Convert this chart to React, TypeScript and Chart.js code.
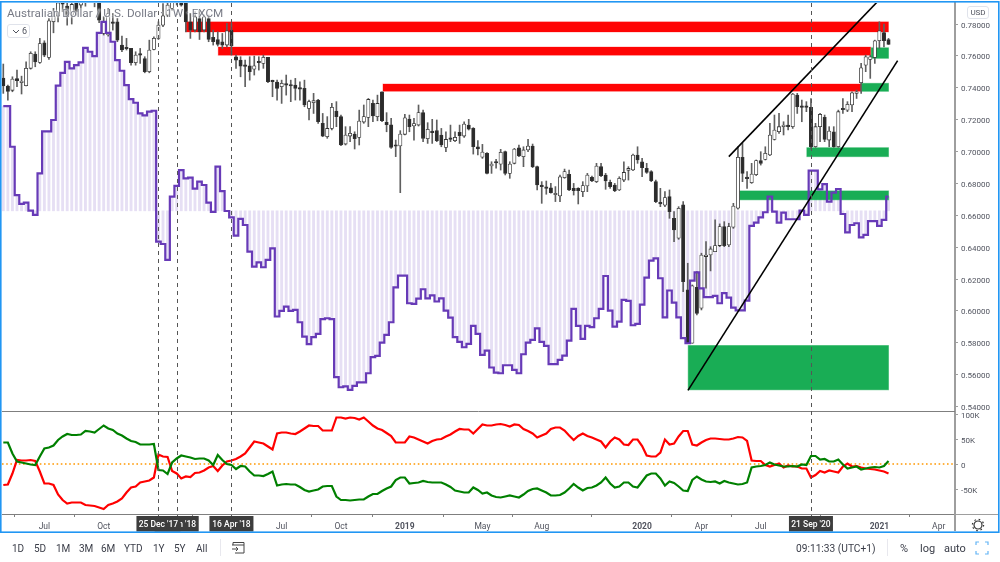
import React, { useEffect, useRef } from "react";
import { Chart, registerables } from "chart.js";

Chart.register(...registerables);

const opens = [
  0.7461, 0.7411, 0.7384, 0.7457, 0.7432, 0.7413, 0.7522, 0.7611, 0.7559, 0.7682,
  0.7591, 0.7814, 0.785, 0.796, 0.7912, 0.7856, 0.7971, 0.7919, 0.7992, 0.7992,
  0.8013, 0.7992, 0.7741, 0.7731, 0.7814, 0.7814, 0.7668, 0.7651, 0.7647, 0.7557,
  0.7609, 0.7584, 0.7501, 0.7641, 0.771, 0.7793, 0.7856, 0.7898, 0.794, 0.794,
  0.794, 0.7814, 0.7762, 0.7835, 0.7762, 0.7835, 0.7716, 0.7703, 0.7689, 0.7668,
  0.7762, 0.7595, 0.7574, 0.7538, 0.7538, 0.7517, 0.7561, 0.7553, 0.7591, 0.7442,
  0.7436, 0.7407, 0.7421, 0.7415, 0.7417, 0.7396, 0.7396, 0.7271, 0.7306, 0.7323,
  0.7177, 0.7093, 0.7145, 0.7254, 0.7219, 0.7047, 0.7097, 0.711, 0.7089, 0.7185,
  0.7214, 0.7302, 0.7219, 0.7375, 0.7183, 0.7168, 0.7037, 0.7035, 0.7108, 0.7204,
  0.716, 0.7166, 0.7244, 0.7081, 0.7129, 0.7131, 0.7104, 0.7026, 0.7083, 0.7068,
  0.712, 0.7097, 0.7166, 0.7145, 0.703, 0.6964, 0.6989, 0.6909, 0.6932, 0.692,
  0.6999, 0.6863, 0.6926, 0.7024, 0.6968, 0.701, 0.7035, 0.6905, 0.679, 0.6775,
  0.6773, 0.6729, 0.6721, 0.6836, 0.6857, 0.6769, 0.6769, 0.6748, 0.6784, 0.6838,
  0.6811, 0.6905, 0.6853, 0.6807, 0.679, 0.6759, 0.6821, 0.6882, 0.6884, 0.6978,
  0.6936, 0.6894, 0.6874, 0.6811, 0.6681, 0.6663, 0.6717, 0.6581, 0.6456, 0.6665,
  0.6132, 0.5797, 0.6148, 0.6017, 0.6341, 0.6351, 0.6372, 0.641, 0.6529, 0.6414,
  0.6525, 0.6644, 0.6964, 0.6834, 0.6805, 0.6855, 0.6943, 0.6951, 0.6978, 0.7076,
  0.7124, 0.7156, 0.716, 0.7156, 0.7354, 0.7281, 0.7281, 0.7277, 0.703, 0.7156,
  0.7214, 0.7072, 0.7124, 0.703, 0.7267, 0.726, 0.7292, 0.7365, 0.7432, 0.7542,
  0.7578, 0.7591, 0.7695, 0.7747, 0.7703,
];

const closes = [
  0.7411, 0.7377, 0.7455, 0.7444, 0.7442, 0.7522, 0.7616, 0.7563, 0.7678, 0.7605,
  0.782, 0.785, 0.7933, 0.7925, 0.7846, 0.7923, 0.7877, 0.794, 0.794, 0.8034,
  0.796, 0.7825, 0.7814, 0.7866, 0.7804, 0.7699, 0.7637, 0.7645, 0.7557, 0.7605,
  0.7605, 0.7501, 0.7637, 0.771, 0.7793, 0.7852, 0.7919, 0.794, 0.7981, 0.7919,
  0.7814, 0.7762, 0.7846, 0.7751, 0.7846, 0.7703, 0.7689, 0.7672, 0.7668, 0.7758,
  0.7662, 0.7574, 0.7536, 0.7534, 0.7501, 0.7538, 0.7557, 0.7591, 0.7438, 0.7438,
  0.7396, 0.7428, 0.7417, 0.7411, 0.7396, 0.7392, 0.7292, 0.7313, 0.7319, 0.7187,
  0.7097, 0.7145, 0.7277, 0.7219, 0.7041, 0.7104, 0.7114, 0.7081, 0.7191, 0.7219,
  0.7327, 0.7223, 0.7302, 0.7193, 0.7168, 0.7026, 0.7033, 0.711, 0.7212, 0.7156,
  0.7175, 0.7244, 0.7083, 0.7139, 0.7118, 0.7068, 0.7041, 0.7076, 0.7076, 0.7089,
  0.7099, 0.7173, 0.7141, 0.703, 0.7016, 0.6997, 0.6863, 0.6922, 0.6928, 0.6995,
  0.6863, 0.6922, 0.7016, 0.6972, 0.701, 0.7035, 0.6905, 0.679, 0.678, 0.6769,
  0.6742, 0.6734, 0.6842, 0.6874, 0.6759, 0.6755, 0.6755, 0.6786, 0.6853, 0.6815,
  0.6909, 0.6849, 0.6815, 0.678, 0.6755, 0.6832, 0.6869, 0.6894, 0.6978, 0.6947,
  0.6899, 0.6869, 0.6817, 0.6686, 0.6671, 0.6711, 0.6623, 0.6508, 0.6644, 0.6184,
  0.5797, 0.6157, 0.5985, 0.6351, 0.6351, 0.6389, 0.641, 0.6529, 0.641, 0.6529,
  0.6658, 0.6964, 0.6863, 0.683, 0.6859, 0.6943, 0.6926, 0.6989, 0.7104, 0.7135,
  0.7156, 0.7162, 0.7156, 0.7361, 0.7281, 0.7277, 0.7277, 0.703, 0.7156, 0.7233,
  0.7076, 0.7129, 0.703, 0.725, 0.7262, 0.7296, 0.7369, 0.7369, 0.7526, 0.7595,
  0.7595, 0.7695, 0.7758, 0.7695, 0.7672,
];

const highs = [
  0.7549, 0.7417, 0.7469, 0.7511, 0.7473, 0.7563, 0.7626, 0.7626, 0.771, 0.7695,
  0.7835, 0.7898, 0.7971, 0.8002, 0.7967, 0.796, 0.8002, 0.7981, 0.8013, 0.8055,
  0.8075, 0.8044, 0.7846, 0.7898, 0.7866, 0.7835, 0.7724, 0.771, 0.7647, 0.7626,
  0.7647, 0.7595, 0.7699, 0.772, 0.7814, 0.7929, 0.796, 0.7971, 0.8013, 0.7971,
  0.796, 0.7866, 0.7877, 0.7887, 0.7856, 0.7856, 0.7762, 0.7751, 0.7741, 0.7804,
  0.7804, 0.7605, 0.7595, 0.7574, 0.7595, 0.7599, 0.7595, 0.7605, 0.7591, 0.7448,
  0.7448, 0.7448, 0.748, 0.7448, 0.7459, 0.7438, 0.7448, 0.7323, 0.7365, 0.7327,
  0.7239, 0.7219, 0.7302, 0.7313, 0.7229, 0.7156, 0.7156, 0.7124, 0.726, 0.7292,
  0.7333, 0.7323, 0.7354, 0.7375, 0.7244, 0.7208, 0.7072, 0.7131, 0.7233, 0.7229,
  0.7208, 0.7292, 0.726, 0.7181, 0.7202, 0.7198, 0.7145, 0.7124, 0.7166, 0.7124,
  0.7166, 0.7187, 0.7202, 0.715, 0.7068, 0.7045, 0.6993, 0.6936, 0.6951, 0.7014,
  0.7003, 0.6936, 0.702, 0.7041, 0.703, 0.7076, 0.7047, 0.6909, 0.6811, 0.6815,
  0.68, 0.678, 0.6853, 0.689, 0.6884, 0.68, 0.6773, 0.6811, 0.6863, 0.6846,
  0.6926, 0.6926, 0.6863, 0.6821, 0.68, 0.6842, 0.6936, 0.6905, 0.6984, 0.703,
  0.6957, 0.6926, 0.688, 0.6821, 0.6769, 0.6748, 0.6759, 0.6623, 0.6654, 0.6686,
  0.6299, 0.6163, 0.6247, 0.6362, 0.6435, 0.6403, 0.6571, 0.6546, 0.656, 0.655,
  0.6675, 0.703, 0.7051, 0.6874, 0.6926, 0.6947, 0.6999, 0.703, 0.7177, 0.7229,
  0.7239, 0.7187, 0.7229, 0.7365, 0.7365, 0.7323, 0.7313, 0.7333, 0.7177, 0.7239,
  0.7229, 0.7156, 0.7156, 0.726, 0.7333, 0.7313, 0.7375, 0.7386, 0.7553, 0.7605,
  0.7605, 0.7699, 0.7814, 0.78, 0.771,
];

const lows = [
  0.7365, 0.7323, 0.7375, 0.7407, 0.7361, 0.7411, 0.7517, 0.7532, 0.7553, 0.7595,
  0.7578, 0.7745, 0.7814, 0.7877, 0.7793, 0.78, 0.7856, 0.7898, 0.7912, 0.795,
  0.7908, 0.7808, 0.7731, 0.7724, 0.7762, 0.7689, 0.7626, 0.7637, 0.7542, 0.7542,
  0.7553, 0.7494, 0.7494, 0.7637, 0.7703, 0.7783, 0.7846, 0.7887, 0.7919, 0.7912,
  0.7751, 0.771, 0.7751, 0.7703, 0.7751, 0.7689, 0.7668, 0.7662, 0.7647, 0.7657,
  0.7605, 0.7522, 0.7469, 0.7407, 0.7448, 0.748, 0.7511, 0.7522, 0.7432, 0.7344,
  0.7323, 0.7302, 0.7354, 0.7313, 0.7323, 0.7323, 0.7281, 0.7198, 0.7239, 0.7177,
  0.7093, 0.7083, 0.7135, 0.7156, 0.7037, 0.7041, 0.7062, 0.7016, 0.7041, 0.7177,
  0.7156, 0.7187, 0.7193, 0.7187, 0.7124, 0.702, 0.6968, 0.6742, 0.7104, 0.7124,
  0.7072, 0.716, 0.7062, 0.7051, 0.7051, 0.7062, 0.703, 0.6999, 0.7062, 0.7062,
  0.7051, 0.7089, 0.7135, 0.6984, 0.6978, 0.6957, 0.6859, 0.6863, 0.6895, 0.6884,
  0.6853, 0.6832, 0.6922, 0.6968, 0.6905, 0.6999, 0.6899, 0.6759, 0.6675, 0.6732,
  0.6738, 0.6686, 0.6686, 0.6832, 0.6755, 0.6727, 0.6671, 0.6717, 0.6748, 0.6811,
  0.6805, 0.6842, 0.6763, 0.6769, 0.6748, 0.6755, 0.6811, 0.6821, 0.688, 0.6926,
  0.6842, 0.6863, 0.6811, 0.6679, 0.6654, 0.6654, 0.6581, 0.6435, 0.6449, 0.6121,
  0.5797, 0.5797, 0.5975, 0.6006, 0.6142, 0.6251, 0.6372, 0.6403, 0.6403, 0.6403,
  0.6518, 0.6638, 0.6811, 0.6769, 0.68, 0.6849, 0.6915, 0.6947, 0.6974, 0.7072,
  0.7114, 0.7104, 0.7135, 0.7145, 0.7239, 0.7187, 0.725, 0.702, 0.7026, 0.7062,
  0.7062, 0.703, 0.7026, 0.7026, 0.7239, 0.725, 0.725, 0.7333, 0.7365, 0.7501,
  0.7459, 0.7553, 0.7647, 0.7657, 0.7672,
];

const netLine = [
  0.7285, 0.7285, 0.703, 0.6727, 0.6671, 0.6679, 0.6629, 0.6602, 0.6863, 0.7127,
  0.7127, 0.7198, 0.7413, 0.7494, 0.7563, 0.7522, 0.7542, 0.7559, 0.7651, 0.7626,
  0.7599, 0.7745, 0.7814, 0.7745, 0.7689, 0.7574, 0.7507, 0.7417, 0.7329, 0.7306,
  0.7239, 0.7227, 0.725, 0.7256, 0.6435, 0.642, 0.632, 0.6717, 0.6784, 0.6884,
  0.6832, 0.6836, 0.6767, 0.6811, 0.679, 0.6679, 0.6621, 0.6905, 0.6752, 0.6627,
  0.6587, 0.6472, 0.6577, 0.6539, 0.6372, 0.6278, 0.6305, 0.6274, 0.632, 0.6393,
  0.5965, 0.6, 0.6027, 0.6, 0.6006, 0.5929, 0.5839, 0.5791, 0.5835, 0.5856,
  0.5948, 0.5954, 0.5948, 0.5584, 0.5521, 0.5526, 0.5505, 0.553, 0.5551, 0.5551,
  0.5609, 0.571, 0.5718, 0.5801, 0.585, 0.5929, 0.6148, 0.6222, 0.6222, 0.6048,
  0.6044, 0.6077, 0.6136, 0.6079, 0.6098, 0.6059, 0.6079, 0.6002, 0.5958, 0.5835,
  0.5806, 0.5772, 0.5793, 0.5906, 0.5856, 0.5724, 0.5751, 0.5645, 0.5613, 0.5609,
  0.5659, 0.5659, 0.563, 0.5609, 0.5728, 0.5801, 0.5818, 0.5891, 0.5806, 0.5781,
  0.5666, 0.5666, 0.5693, 0.572, 0.5814, 0.6013, 0.5906, 0.5824, 0.5906, 0.5898,
  0.5954, 0.6013, 0.6219, 0.6002, 0.5902, 0.5933, 0.6069, 0.6063, 0.591, 0.5919,
  0.604, 0.6209, 0.6316, 0.633, 0.6205, 0.596, 0.6128, 0.6052, 0.596, 0.5829,
  0.5797, 0.619, 0.6242, 0.6142, 0.6086, 0.6086, 0.6094, 0.6048, 0.6111, 0.6084,
  0.6021, 0.6004, 0.6004, 0.6065, 0.6533, 0.6554, 0.6587, 0.6619, 0.6717, 0.6623,
  0.6554, 0.6617, 0.6575, 0.6575, 0.6575, 0.6629, 0.6602, 0.688, 0.688, 0.6763,
  0.6796, 0.6686, 0.6742, 0.6765, 0.6608, 0.6493, 0.6539, 0.655, 0.6462, 0.6477,
  0.6564, 0.6564, 0.6533, 0.6571, 0.6717,
];

const histogramBase = 0.6628;

const redSeries = [
  -42, -41, -19, 8, 7, 7, 8, 6, -15, -39, -39, -42, -61, -72, -79, -77, -77, -77, -82, -83,
  -84, -87, -90, -82, -79, -75, -69, -57, -47, -45, -37, -35, -33, -27, 19, 15, 14, -14, -19, -29,
  -25, -26, -18, -17, -13, -7, -4, -14, -3, 5, 7, 10, 15, 21, 33, 45, 43, 41, 35, 29,
  61, 63, 63, 61, 60, 65, 71, 77, 76, 76, 67, 67, 67, 93, 93, 91, 93, 92, 89, 93,
  85, 77, 71, 68, 62, 56, 43, 43, 43, 55, 53, 49, 45, 41, 46, 49, 50, 55, 59, 65,
  70, 69, 69, 61, 70, 79, 77, 77, 79, 80, 78, 75, 79, 78, 70, 66, 61, 53, 57, 61,
  70, 73, 73, 67, 57, 48, 56, 61, 56, 53, 49, 45, 33, 45, 53, 49, 39, 38, 49, 49,
  36, 17, 15, 15, 23, 49, 39, 41, 55, 66, 66, 39, 37, 43, 48, 51, 51, 50, 49, 49,
  51, 54, 53, 46, 7, 6, 6, -2, -5, -2, 1, -7, -3, -5, -5, -9, -9, -27, -22, -14,
  -17, -13, -15, -17, -5, 1, -5, -4, -7, -9, -10, -11, -13, -15, -19,
];

const greenSeries = [
  43, 43, 21, 5, 3, 1, -1, -2, 15, 31, 33, 37, 48, 55, 60, 58, 58, 59, 66, 65,
  63, 70, 77, 71, 68, 61, 57, 51, 46, 44, 39, 39, 39, 40, -12, -13, -20, 3, 11, 17,
  15, 13, 10, 11, 11, 7, -2, 18, 8, 0, -2, -10, -4, -5, -15, -23, -23, -24, -20, -15,
  -43, -41, -40, -41, -41, -46, -52, -55, -53, -51, -45, -44, -44, -65, -72, -72, -73, -72, -71, -71,
  -65, -60, -60, -54, -49, -45, -32, -27, -27, -39, -38, -37, -34, -36, -37, -37, -37, -41, -46, -53,
  -55, -57, -57, -47, -52, -59, -57, -63, -66, -67, -65, -63, -65, -67, -61, -54, -50, -49, -53, -57,
  -63, -63, -62, -57, -49, -40, -47, -53, -48, -47, -43, -37, -27, -39, -47, -45, -37, -37, -45, -47,
  -35, -23, -19, -19, -29, -43, -35, -38, -45, -53, -54, -32, -25, -31, -35, -36, -35, -39, -34, -37,
  -39, -41, -40, -37, -7, -5, -4, -2, 3, -1, -3, -5, -5, -4, -5, -1, -2, 16, 16, 9,
  10, 5, 5, 9, -1, -9, -7, -5, -11, -9, -7, -6, -7, -4, 6,
];

const priceTicks = [0.78, 0.76, 0.74, 0.72, 0.7, 0.68, 0.66, 0.64, 0.62, 0.6, 0.58, 0.56, 0.54];
const oscTicks = [100, 50, 0, -50];
const oscTickLabels = ["100K", "50K", "0", "-50K"];
const tickWeeks = [9, 22, 61, 74, 88, 105, 118, 140, 153, 166, 192, 205];
const tickLabels = ["Jul", "Oct", "Jul", "Oct", "2019", "May", "Aug", "2020", "Apr", "Jul", "2021", "Apr"];
const boldTicks = ["2019", "2020", "2021"];
const markerWeeks = [38, 34, 50, 177];
const markerLabels = ["22 Jan '18", "25 Dec '17", "16 Apr '18", "21 Sep '20"];

const redZones = [
  [40, 194, 0.7814, 0.775],
  [47.1, 190.1, 0.7656, 0.7604],
  [83.2, 188, 0.7424, 0.7378],
];
const greenZones = [
  [190.2, 194, 0.7651, 0.7585],
  [188, 194, 0.7428, 0.7378],
  [176.1, 194, 0.7024, 0.6968],
  [161.2, 194, 0.6753, 0.6697],
  [150.1, 194, 0.5783, 0.5505],
];
const upperTrend = [
  { x: 159, y: 0.6968 },
  { x: 191.5, y: 0.7938 },
];
const lowerTrend = [
  { x: 150.05, y: 0.5501 },
  { x: 196, y: 0.757 },
];

const FONT = "Roboto, 'Liberation Sans', sans-serif";
const TEXT = "#50535e";

const weeks = opens.map((_, i) => i);

function drawZones(chart: any) {
  const { ctx, scales, chartArea } = chart;
  const paint = (zones: number[][], fill: string, edge: string) => {
    zones.forEach(([a, b, top, bottom]) => {
      const x0 = scales.x.getPixelForValue(a);
      const x1 = scales.x.getPixelForValue(b);
      const y0 = scales.y.getPixelForValue(top);
      const y1 = scales.y.getPixelForValue(bottom);
      ctx.fillStyle = fill;
      ctx.fillRect(x0, y0, x1 - x0, y1 - y0);
      ctx.strokeStyle = edge;
      ctx.lineWidth = 1;
      ctx.strokeRect(x0, y0, x1 - x0, y1 - y0);
    });
  };
  ctx.save();
  ctx.beginPath();
  ctx.rect(chartArea.left, chartArea.top, chartArea.right - chartArea.left, chartArea.bottom - chartArea.top);
  ctx.clip();
  paint(redZones, "rgba(255,0,0,0.985)", "rgba(255,0,0,0.25)");
  paint(greenZones, "rgba(16,170,78,0.96)", "rgba(16,170,78,0.45)");
  ctx.restore();
}

const noPadding = (s: any) => {
  s.paddingTop = 0;
  s.paddingBottom = 0;
  s.paddingLeft = 0;
  s.paddingRight = 0;
};

const overlayPlugin = {
  id: "overlay",
  afterDatasetDraw(chart: any, args: any) {
    if (args.meta.controller.getDataset().label === "histogram") drawZones(chart);
  },
  afterDraw(chart: any) {
    const { ctx, scales, chartArea } = chart;
    const paneBottom = scales.y.bottom;
    ctx.save();
    ctx.strokeStyle = "#7f7f7f";
    ctx.lineWidth = 1;
    ctx.beginPath();
    ctx.moveTo(chartArea.left, paneBottom + 0.5);
    ctx.lineTo(chartArea.right, paneBottom + 0.5);
    ctx.stroke();
    ctx.strokeStyle = "#9e9e9e";
    ctx.lineWidth = 1;
    ctx.beginPath();
    ctx.moveTo(chartArea.right, chartArea.bottom + 0.5);
    ctx.lineTo(998, chartArea.bottom + 0.5);
    ctx.stroke();
    ctx.lineWidth = 2;
    ctx.beginPath();
    ctx.moveTo(chartArea.right, chartArea.bottom);
    ctx.lineTo(chartArea.right, 531);
    ctx.stroke();
    ctx.strokeStyle = "#555";
    ctx.lineWidth = 1;
    ctx.setLineDash([4, 4]);
    markerWeeks.forEach((w) => {
      const x = Math.round(scales.x.getPixelForValue(w)) + 0.5;
      ctx.beginPath();
      ctx.moveTo(x, chartArea.top);
      ctx.lineTo(x, chartArea.bottom + 2);
      ctx.stroke();
    });
    ctx.setLineDash([]);
    ctx.font = `500 8.5px ${FONT}`;
    ctx.textAlign = "center";
    ctx.textBaseline = "middle";
    markerWeeks.forEach((w, i) => {
      const x = scales.x.getPixelForValue(w);
      ctx.fillStyle = "#3d3d3d";
      ctx.fillRect(x - 22, chartArea.bottom + 2, 44, 15.5);
      ctx.fillStyle = "#ffffff";
      ctx.fillText(markerLabels[i], x, chartArea.bottom + 10.5);
    });
    ctx.strokeStyle = "#2196f3";
    ctx.lineWidth = 1.6;
    ctx.strokeRect(0.8, 1.8, 998, 530.4);
    ctx.restore();
  },
};

const candleColors = weeks.map((i) => (closes[i] >= opens[i] ? "#ffffff" : "#2b2b2b"));

function ChartCanvas() {
  const ref = useRef<HTMLCanvasElement | null>(null);
  useEffect(() => {
    if (!ref.current) return;
    Chart.defaults.font.family = FONT;
    const chart = new Chart(ref.current, {
      type: "bar",
      plugins: [overlayPlugin],
      data: {
        datasets: [
          {
            type: "line",
            label: "upper trend",
            data: upperTrend,
            yAxisID: "y",
            borderColor: "#000",
            borderWidth: 1.6,
            pointRadius: 0,
            order: 1,
          },
          {
            type: "line",
            label: "lower trend",
            data: lowerTrend,
            yAxisID: "y",
            borderColor: "#000",
            borderWidth: 1.6,
            pointRadius: 0,
            order: 1,
          },
          {
            type: "line",
            label: "net line",
            data: weeks.map((i) => ({ x: i, y: netLine[i] })),
            yAxisID: "y",
            borderColor: "#673ab7",
            borderWidth: 2.2,
            stepped: "middle",
            pointRadius: 0,
            order: 2,
          },
          {
            type: "bar",
            label: "bodies",
            data: weeks.map((i) => ({ x: i, y: [opens[i], closes[i]] })),
            yAxisID: "y",
            backgroundColor: candleColors,
            borderColor: "#333",
            borderWidth: 0.8,
            borderSkipped: false,
            barThickness: 3.4,
            minBarLength: 1.5,
            grouped: false,
            order: 3,
          },
          {
            type: "bar",
            label: "wicks",
            data: weeks.map((i) => ({ x: i, y: [lows[i], highs[i]] })),
            yAxisID: "y",
            backgroundColor: "#5f5f5f",
            barThickness: 1,
            grouped: false,
            order: 4,
          },
          {
            type: "bar",
            label: "histogram",
            data: weeks.map((i) => ({ x: i, y: [histogramBase, netLine[i]] })),
            yAxisID: "y",
            backgroundColor: "#e6dff4",
            barThickness: 2.2,
            grouped: false,
            order: 5,
          },
          {
            type: "line",
            label: "red series",
            data: weeks.map((i) => ({ x: i, y: redSeries[i] })),
            yAxisID: "y2",
            borderColor: "#ff0000",
            borderWidth: 2.2,
            pointRadius: 0,
            order: 1,
          },
          {
            type: "line",
            label: "green series",
            data: weeks.map((i) => ({ x: i, y: greenSeries[i] })),
            yAxisID: "y2",
            borderColor: "#008000",
            borderWidth: 2.2,
            pointRadius: 0,
            order: 0,
          },
          {
            type: "line",
            label: "zero line",
            data: [
              { x: -0.285, y: 0 },
              { x: 208.57, y: 0 },
            ],
            yAxisID: "y2",
            borderColor: "#ff9800",
            borderWidth: 1.4,
            borderDash: [1.6, 2.6],
            pointRadius: 0,
            order: 6,
          },
        ],
      } as any,
      options: {
        responsive: false,
        animation: false,
        events: [],
        layout: { padding: { left: 2, right: 0, top: 3, bottom: 0 } },
        plugins: { legend: { display: false }, tooltip: { enabled: false } },
        scales: {
          x: {
            type: "linear",
            offset: false,
            min: -0.285,
            max: 208.57,
            afterBuildTicks: (s: any) => {
              s.ticks = tickWeeks.map((value) => ({ value }));
            },
            afterFit: (s: any) => {
              s.height = 48;
              noPadding(s);
            },
            grid: { display: true, drawOnChartArea: false, tickLength: 3, color: "#7f7f7f" },
            border: { color: "#7f7f7f", width: 1 },
            ticks: {
              autoSkip: false,
              maxRotation: 0,
              padding: 5,
              color: TEXT,
              font: (c: any) => ({
                size: 8.5,
                weight: boldTicks.includes(tickLabels[tickWeeks.indexOf(c.tick?.value)]) ? "bold" : "normal",
              }),
              callback: (v: any) => tickLabels[tickWeeks.indexOf(Number(v))] ?? "",
            },
          },
          y: {
            type: "linear",
            position: "right",
            stack: "panes",
            stackWeight: 408,
            min: 0.5372,
            max: 0.7932,
            afterBuildTicks: (s: any) => {
              s.ticks = priceTicks.map((value) => ({ value }));
            },
            afterFit: (s: any) => {
              s.width = 45;
              noPadding(s);
            },
            grid: { display: true, drawOnChartArea: false, tickLength: 3, color: "#9e9e9e" },
            border: { color: "#9e9e9e", width: 2 },
            ticks: {
              padding: 3,
              labelOffset: 1.5,
              color: TEXT,
              font: { size: 8 },
              callback: (v: any) => Number(v).toFixed(5),
            },
          },
          y2: {
            type: "linear",
            position: "right",
            stack: "panes",
            stackWeight: 103,
            min: -100,
            max: 106,
            afterBuildTicks: (s: any) => {
              s.ticks = oscTicks.map((value) => ({ value }));
            },
            afterFit: (s: any) => {
              s.width = 45;
              noPadding(s);
            },
            grid: { display: true, drawOnChartArea: false, tickLength: 3, color: "#9e9e9e" },
            border: { color: "#9e9e9e", width: 2 },
            ticks: {
              padding: 3,
              labelOffset: 1.5,
              color: TEXT,
              font: { size: 8 },
              callback: (v: any) => oscTickLabels[oscTicks.indexOf(Number(v))] ?? "",
            },
          },
        },
      },
    } as any);
    return () => chart.destroy();
  }, []);
  return <canvas ref={ref} width={1000} height={562} style={{ display: "block", width: 1000, height: 562 }} />;
}

const rangeButtons: [string, number][] = [
  ["1D", 12],
  ["5D", 34],
  ["1M", 56],
  ["3M", 79],
  ["6M", 101],
  ["YTD", 124],
  ["1Y", 153],
  ["5Y", 174],
  ["All", 196],
];
const rightButtons: [string, number][] = [
  ["09:11:33 (UTC+1)", 796],
  ["%", 900],
  ["log", 920],
  ["auto", 944],
];

const abs = (left: number, top: number, extra: React.CSSProperties = {}): React.CSSProperties => ({
  position: "absolute",
  left,
  top,
  whiteSpace: "nowrap",
  fontFamily: FONT,
  ...extra,
});

export default function App() {
  useEffect(() => {
    document.body.style.margin = "0";
    document.body.style.background = "#fff";
  }, []);
  return (
    <div style={{ position: "fixed", left: 0, top: 0, width: 1000, height: 562, overflow: "hidden", background: "#fff" }}>
      <ChartCanvas />
      <div
        style={abs(7, 6, {
          fontSize: 11.7,
          lineHeight: "14px",
          color: "#787b86",
          textShadow: "0 0 2px #fff, 0 0 2px #fff, 0 0 3px #fff",
        })}
      >
        Australian Dollar / U.S. Dollar · 1W · FXCM
      </div>
      <div
        style={abs(7, 24, {
          width: 21,
          height: 12,
          border: "1px solid #e0e3eb",
          borderRadius: 3,
          background: "#fff",
          fontSize: 9,
          lineHeight: "12px",
          color: "#50535e",
        })}
      >
        <svg width="8" height="6" style={{ position: "absolute", left: 4, top: 4 }}>
          <path d="M1 1 L4 4 L7 1" fill="none" stroke="#50535e" strokeWidth="1" />
        </svg>
        <span style={{ position: "absolute", left: 14, top: 0 }}>6</span>
      </div>
      <div
        style={abs(967, 6, {
          width: 20,
          height: 11,
          border: "1px solid #e0e3eb",
          borderRadius: 3,
          fontSize: 8,
          lineHeight: "11px",
          color: "#50535e",
          textAlign: "center",
        })}
      >
        USD
      </div>
      <svg width="14" height="14" style={{ position: "absolute", left: 971, top: 518 }}>
        <circle cx="7" cy="7" r="4" fill="none" stroke="#333" strokeWidth="1.2" />
        <circle cx="7" cy="7" r="5.6" fill="none" stroke="#333" strokeWidth="1.2" strokeDasharray="1.6 2.8" />
      </svg>
      {rangeButtons.map(([t, x]) => (
        <div key={t} style={abs(x, 542, { fontSize: 10, lineHeight: "13px", color: "#3a3d48" })}>
          {t}
        </div>
      ))}
      <div style={{ position: "absolute", left: 220, top: 539, width: 1, height: 17, background: "#e8e8ee" }} />
      <svg width="15" height="14" style={{ position: "absolute", left: 231, top: 541 }}>
        <path d="M2 4 V1.5 H13 V12 H4 M1 4 H13 M1 8 H7 M5 6 L7 8 L5 10" fill="none" stroke="#444" strokeWidth="1" />
      </svg>
      {rightButtons.map(([t, x]) => (
        <div key={t} style={abs(x, 542, { fontSize: t === "%" || t === "log" || t === "auto" ? 11 : 10.2, lineHeight: "13px", color: "#3a3d48" })}>
          {t}
        </div>
      ))}
      <div style={{ position: "absolute", left: 887, top: 539, width: 1, height: 17, background: "#e8e8ee" }} />
      <svg width="14" height="14" style={{ position: "absolute", left: 975, top: 541 }}>
        <path d="M1 4 V1 H4 M10 1 H13 V4 M13 10 V13 H10 M4 13 H1 V10" fill="none" stroke="#64b5f6" strokeWidth="1.2" />
      </svg>
    </div>
  );
}
